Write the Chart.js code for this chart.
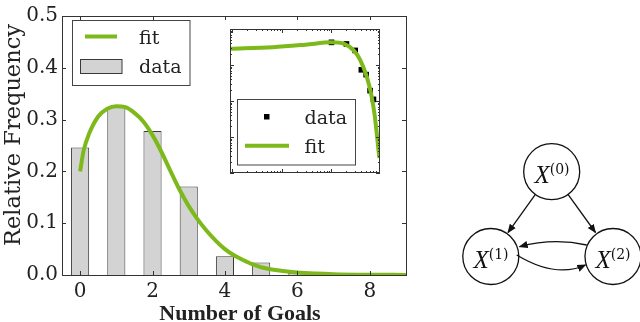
<!DOCTYPE html>
<html>
<head>
<meta charset="utf-8">
<script src="https://cdn.jsdelivr.net/npm/chart.js@4.4.1/dist/chart.umd.min.js"></script>
<style>
  html, body { margin: 0; padding: 0; background: #fff; }
  #wrap { position: relative; width: 640px; height: 322px; overflow: hidden; }
  #main { position: absolute; left: 0; top: 0; }
  #inset { position: absolute; left: 226px; top: 25px; }
  #graph { position: absolute; left: 0; top: 0; pointer-events: none; }
  #graph text { fill: #111; }
  #graph .v { font-family: "Liberation Serif", "DejaVu Serif"; font-style: italic; font-size: 25px; }
  #graph .s { font-family: "DejaVu Serif"; font-size: 14px; }
</style>
</head>
<body>
<div id="wrap">
  <canvas id="main" width="420" height="322"></canvas>
  <canvas id="inset" width="158" height="152"></canvas>
  <svg id="graph" width="640" height="322">
    <defs>
      <marker id="head" viewBox="0 0 10 10" refX="9" refY="5" markerWidth="7" markerHeight="7" orient="auto">
        <path d="M0,1 L10,5 L0,9 z" fill="#111"></path>
      </marker>
    </defs>
    <circle cx="551.7" cy="171.7" r="28" fill="#fff" stroke="#111" stroke-width="1.3"></circle>
    <circle cx="490.8" cy="256.5" r="28" fill="#fff" stroke="#111" stroke-width="1.3"></circle>
    <circle cx="613" cy="256.5" r="28" fill="#fff" stroke="#111" stroke-width="1.3"></circle>
    <line x1="535.4" y1="194.4" x2="508" y2="232.5" stroke="#111" stroke-width="1.3" marker-end="url(#head)"></line>
    <line x1="568" y1="194.4" x2="595.5" y2="232.5" stroke="#111" stroke-width="1.3" marker-end="url(#head)"></line>
    <path d="M586.7,245 Q553,237.6 519.5,246.7" fill="none" stroke="#111" stroke-width="1.3" marker-end="url(#head)"></path>
    <path d="M516.7,255 Q555.8,278.6 585.5,265" fill="none" stroke="#111" stroke-width="1.3" marker-end="url(#head)"></path>
    <text x="552" y="183" text-anchor="middle"><tspan class="v">X</tspan><tspan class="s" dy="-9">(0)</tspan></text>
    <text x="491" y="268" text-anchor="middle"><tspan class="v">X</tspan><tspan class="s" dy="-9">(1)</tspan></text>
    <text x="613" y="268" text-anchor="middle"><tspan class="v">X</tspan><tspan class="s" dy="-9">(2)</tspan></text>
  </svg>
</div>
<script>
'use strict';

// histogram
var goals = [0, 1, 2, 3, 4, 5, 6];
var freq = [0.246, 0.324, 0.278, 0.171, 0.036, 0.024, 0.004];

// fitted curve
var fitX = [0, 0.1, 0.25, 0.5, 0.75, 1, 1.25, 1.5, 1.75, 2, 2.25, 2.5, 2.75, 3, 3.25, 3.5, 3.75, 4, 4.25, 4.5, 4.75, 5, 5.5, 6, 6.5, 7, 8, 9];
var fitY = [0.2, 0.241, 0.273, 0.306, 0.321, 0.326, 0.324, 0.313, 0.296, 0.27, 0.237, 0.2, 0.164, 0.133, 0.107, 0.085, 0.066, 0.05, 0.038, 0.029, 0.021, 0.015, 0.0085, 0.0048, 0.0028, 0.0016, 0.0006, 0.0002];

var xTicks = [0, 2, 4, 6, 8];
var yTicks = [0, 0.1, 0.2, 0.3, 0.4, 0.5];

// inset (log-log)
var insetX = [1, 2, 3, 4, 5, 6, 7];
var insetY = [0.426, 0.384, 0.254, 0.0736, 0.054, 0.0194, 0.0111];
var insetFitX = [0.009, 0.066, 0.3, 1, 1.8, 2.8, 3.8, 5.1, 6.4, 7.4, 8.2, 9.0, 9.25];
var insetFitY = [0.282, 0.313, 0.367, 0.426, 0.384, 0.254, 0.137, 0.049, 0.0142, 0.00413, 0.0012, 0.00035, 0.00026];

var GREEN = '#7db91b';
var INK = '#222';
var SERIF = '"DejaVu Serif"';
var SERIF_BOLD = '"Liberation Serif", "DejaVu Serif"';

function pts(xs, ys) {
  return xs.map(function (x, i) { return { x: x, y: ys[i] }; });
}

var mainDeco = {
  id: 'mainDeco',
  afterDatasetsDraw: function (chart) {
    var ctx = chart.ctx;
    var a = chart.chartArea;
    var sx = chart.scales.x, sy = chart.scales.y;
    ctx.save();
    ctx.strokeStyle = '#333';
    ctx.lineWidth = 1;
    ctx.strokeRect(Math.round(a.left) + 0.5, Math.round(a.top) + 0.5, Math.round(a.right - a.left), Math.round(a.bottom - a.top));
    ctx.beginPath();
    xTicks.forEach(function (v) {
      var p = Math.round(sx.getPixelForValue(v)) + 0.5;
      ctx.moveTo(p, a.bottom); ctx.lineTo(p, a.bottom - 4);
      ctx.moveTo(p, a.top); ctx.lineTo(p, a.top + 4);
    });
    yTicks.forEach(function (v) {
      var p = Math.round(sy.getPixelForValue(v)) + 0.5;
      ctx.moveTo(a.left, p); ctx.lineTo(a.left + 4, p);
      ctx.moveTo(a.right, p); ctx.lineTo(a.right - 4, p);
    });
    ctx.stroke();

    // legend
    ctx.fillStyle = '#fff';
    ctx.fillRect(72.5, 20.5, 117.5, 65);
    ctx.strokeStyle = '#444';
    ctx.strokeRect(72.5, 20.5, 117.5, 65);
    ctx.strokeStyle = GREEN;
    ctx.lineWidth = 4;
    ctx.beginPath();
    ctx.moveTo(85, 36.5); ctx.lineTo(117, 36.5);
    ctx.stroke();
    ctx.fillStyle = '#d3d3d3';
    ctx.fillRect(80.5, 59.5, 41.5, 14);
    ctx.strokeStyle = '#3a3a3a';
    ctx.lineWidth = 1;
    ctx.strokeRect(80.5, 59.5, 41.5, 14);
    ctx.fillStyle = INK;
    ctx.font = '19px ' + SERIF;
    ctx.textAlign = 'left';
    ctx.textBaseline = 'alphabetic';
    ctx.fillText('fit', 139, 43.5);
    ctx.fillText('data', 139, 73);

    // axis titles
    ctx.font = 'bold 22px ' + SERIF_BOLD;
    ctx.textAlign = 'center';
    ctx.fillText('Number of Goals', 240, 320);
    ctx.translate(20, 135);
    ctx.rotate(-Math.PI / 2);
    ctx.font = '22.5px ' + SERIF;
    ctx.fillText('Relative Frequency', 0, 0);
    ctx.restore();
  }
};

var insetDeco = {
  id: 'insetDeco',
  afterDatasetsDraw: function (chart) {
    var ctx = chart.ctx;
    var a = chart.chartArea;
    var sx = chart.scales.x, sy = chart.scales.y;
    ctx.save();
    ctx.strokeStyle = '#333';
    ctx.lineWidth = 1;
    ctx.strokeRect(Math.round(a.left) + 0.5, Math.round(a.top) + 0.5, Math.round(a.right - a.left) - 1, Math.round(a.bottom - a.top) - 1);
    ctx.beginPath();
    var e, m, v, p, len;
    for (e = -4; e <= 1; e++) {
      for (m = 1; m <= 9; m++) {
        v = m * Math.pow(10, e);
        len = m === 1 ? 4 : 2;
        if (v >= sx.min && v <= sx.max) {
          p = Math.round(sx.getPixelForValue(v)) + 0.5;
          ctx.moveTo(p, a.bottom); ctx.lineTo(p, a.bottom - len);
          ctx.moveTo(p, a.top); ctx.lineTo(p, a.top + len);
        }
        if (v >= sy.min && v <= sy.max) {
          p = Math.round(sy.getPixelForValue(v)) + 0.5;
          ctx.moveTo(a.left, p); ctx.lineTo(a.left + len, p);
          ctx.moveTo(a.right, p); ctx.lineTo(a.right - len, p);
        }
      }
    }
    ctx.stroke();

    // legend
    ctx.fillStyle = '#fff';
    ctx.fillRect(11.5, 74.5, 118, 65.5);
    ctx.strokeStyle = '#444';
    ctx.strokeRect(11.5, 74.5, 118, 65.5);
    ctx.fillStyle = '#000';
    ctx.fillRect(38, 89, 5.5, 5.5);
    ctx.strokeStyle = GREEN;
    ctx.lineWidth = 4;
    ctx.beginPath();
    ctx.moveTo(19, 120.7); ctx.lineTo(63, 120.7);
    ctx.stroke();
    ctx.fillStyle = INK;
    ctx.font = '19px ' + SERIF;
    ctx.textAlign = 'left';
    ctx.fillText('data', 78.5, 98.5);
    ctx.fillText('fit', 78.5, 128);
    ctx.restore();
  }
};

var tickFont = { family: SERIF, size: 20 };

new Chart(document.getElementById('main'), {
  type: 'bar',
  data: {
    datasets: [
      {
        type: 'line',
        label: 'fit',
        data: pts(fitX, fitY),
        borderColor: GREEN,
        borderWidth: 4,
        pointRadius: 0,
        fill: false,
        cubicInterpolationMode: 'monotone',
        order: 0
      },
      {
        label: 'data',
        data: pts(goals, freq),
        backgroundColor: '#d3d3d3',
        borderColor: '#3a3a3a',
        borderWidth: 1,
        barPercentage: 0.5,
        categoryPercentage: 1,
        order: 1
      }
    ]
  },
  options: {
    responsive: false,
    animation: false,
    layout: { padding: { top: 9, right: 14, left: 0, bottom: 0 } },
    plugins: { legend: { display: false }, tooltip: { enabled: false } },
    scales: {
      x: {
        type: 'linear',
        min: -0.5,
        max: 9,
        offset: false,
        grid: { display: false, drawTicks: false },
        border: { display: false },
        afterBuildTicks: function (s) { s.ticks = xTicks.map(function (v) { return { value: v }; }); },
        afterFit: function (s) { s.height = 47; },
        ticks: { font: tickFont, color: INK, padding: 5, maxRotation: 0, callback: function (v) { return String(v); } }
      },
      y: {
        min: 0,
        max: 0.5,
        grid: { display: false, drawTicks: false },
        border: { display: false },
        afterBuildTicks: function (s) { s.ticks = yTicks.map(function (v) { return { value: v }; }); },
        afterFit: function (s) { s.width = 62; },
        ticks: { font: tickFont, color: INK, padding: 4, callback: function (v) { return v.toFixed(1); } }
      }
    }
  },
  plugins: [mainDeco]
});

new Chart(document.getElementById('inset'), {
  type: 'line',
  data: {
    datasets: [
      {
        label: 'fit',
        data: pts(insetFitX, insetFitY),
        borderColor: GREEN,
        borderWidth: 4,
        pointRadius: 0,
        fill: false,
        cubicInterpolationMode: 'monotone',
        order: 0
      },
      {
        label: 'data',
        data: pts(insetX, insetY),
        showLine: false,
        pointStyle: 'rect',
        pointRadius: 4,
        pointBorderWidth: 0,
        pointBackgroundColor: '#000',
        order: 1
      }
    ]
  },
  options: {
    responsive: false,
    animation: false,
    layout: { padding: 1.5 },
    plugins: { legend: { display: false }, tooltip: { enabled: false } },
    scales: {
      x: { type: 'logarithmic', min: 0.009, max: 9.5, display: false },
      y: { type: 'logarithmic', min: 0.0001, max: 1, display: false }
    }
  },
  plugins: [insetDeco]
});
</script>
</body>
</html>
